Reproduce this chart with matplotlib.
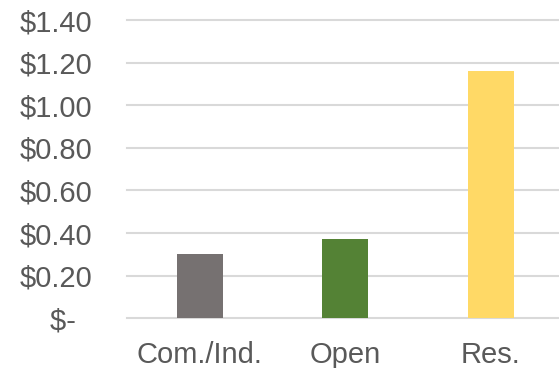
import matplotlib.pyplot as plt

categories = ['Com./Ind.', 'Open', 'Res.']
values = [0.30, 0.37, 1.16]
colors = ['#767171', '#548235', '#FFD966']
yticks = [0.0, 0.2, 0.4, 0.6, 0.8, 1.0, 1.2, 1.4]


def money(v):
    if v == 0:
        return '$-  '
    return '${:.2f}'.format(v)


plt.rcParams['font.family'] = ['Liberation Sans', 'DejaVu Sans']

fig = plt.figure(figsize=(5.59, 3.68), dpi=100)
ax = fig.add_axes([127 / 559, 49.7 / 368, 436.5 / 559, 298.3 / 368])

x = range(len(categories))
ax.bar(x, values, width=0.315, color=colors, zorder=3)

ax.set_xlim(-0.5, 2.5)
ax.set_ylim(0, 1.4)
ax.set_yticks(yticks)
ax.set_yticklabels([money(v) for v in yticks])
ax.set_xticks(list(x))
ax.set_xticklabels(categories)

for s in ax.spines.values():
    s.set_visible(False)
ax.tick_params(axis='both', length=0, labelsize=21, colors='#595959')
ax.tick_params(axis='y', pad=25)
ax.tick_params(axis='x', pad=16.5)

ax.yaxis.grid(True, color='#D9D9D9', linewidth=1.5, zorder=0)
for gl in ax.get_ygridlines():
    gl.set_clip_on(False)

fig.savefig('out.png', dpi=100)
